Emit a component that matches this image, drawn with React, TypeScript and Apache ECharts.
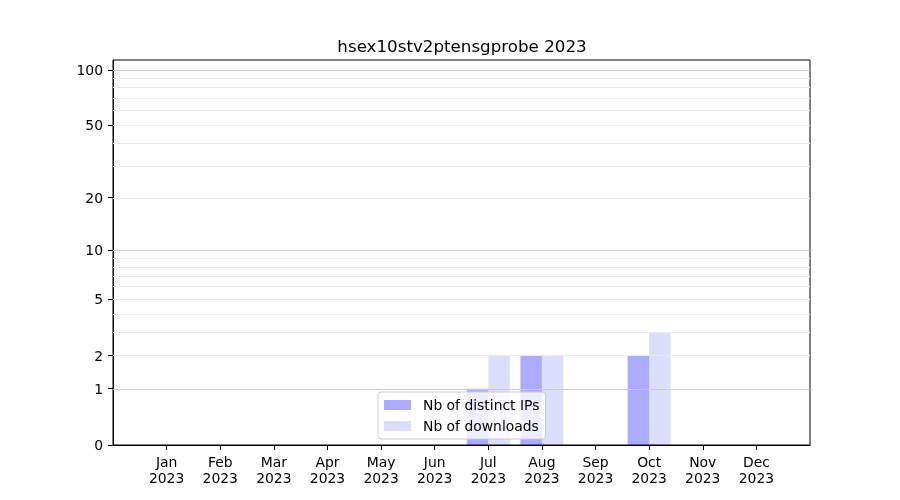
import React, { useEffect, useRef } from "react";
import * as echarts from "echarts";

const months = ["Jan", "Feb", "Mar", "Apr", "May", "Jun", "Jul", "Aug", "Sep", "Oct", "Nov", "Dec"];
const year = "2023";
const ips = [0, 0, 0, 0, 0, 0, 1, 2, 0, 2, 0, 0];
const downloads = [0, 0, 0, 0, 0, 0, 2, 2, 0, 3, 0, 0];
const yTicks = [0, 1, 2, 5, 10, 20, 50, 100];
const majorGrid = [1, 10, 100];
const minorGrid = [2, 3, 4, 5, 6, 7, 8, 9, 20, 30, 40, 50, 60, 70, 80, 90];
const yMaxValue = 113;
const title = "hsex10stv2ptensgprobe 2023";

const tf = (v: number) => Math.log10(1 + v);

export default function App() {
  const ref = useRef<HTMLDivElement>(null);
  useEffect(() => {
    if (!ref.current) return;
    const chart = echarts.init(ref.current, undefined, { renderer: "svg" });
    const cats = ["", ...months.map((m) => `${m}\n${year}`), ""];
    const pad = (arr: number[]) => [null, ...arr.map((v) => tf(v)), null];
    const font = "DejaVu Sans";
    const tickVals = yTicks.map(tf);
    const labelOf = (v: number) => {
      let best = yTicks[0];
      let d = Infinity;
      yTicks.forEach((t) => {
        const dd = Math.abs(tf(t) - v);
        if (dd < d) {
          d = dd;
          best = t;
        }
      });
      return String(best);
    };
    const gridLines = [
      ...minorGrid.map((v) => ({ yAxis: tf(v), lineStyle: { color: "#ebebeb", width: 1, type: "solid" } })),
      ...majorGrid.map((v) => ({ yAxis: tf(v), lineStyle: { color: "#cccccc", width: 1, type: "solid" } })),
    ];
    chart.setOption({
      animation: false,
      textStyle: { fontFamily: font },
      title: {
        text: title,
        left: 457,
        top: 32,
        textAlign: "center",
        textStyle: { fontFamily: font, fontSize: 16.7, fontWeight: "normal", color: "#000" },
      },
      grid: {
        left: 113,
        top: 60,
        width: 697,
        height: 385,
        show: true,
        borderColor: "#000",
        borderWidth: 1,
        containLabel: false,
      },
      legend: {
        data: ["Nb of distinct IPs", "Nb of downloads"],
        orient: "vertical",
        left: 378,
        top: 392,
        itemWidth: 27,
        itemHeight: 10,
        itemGap: 5,
        padding: [5, 6, 5, 6],
        backgroundColor: "rgba(255,255,255,0.8)",
        borderColor: "#cccccc",
        borderWidth: 1,
        borderRadius: 3,
        textStyle: { fontFamily: font, fontSize: 13.9, color: "#000", lineHeight: 16, padding: [0, 0, 0, 7] },
        icon: "rect",
        selectedMode: false,
      },
      xAxis: {
        type: "category",
        data: cats,
        boundaryGap: false,
        axisLine: { lineStyle: { color: "#000", width: 1 } },
        axisTick: {
          length: 5,
          lineStyle: { color: "#000" },
          interval: (_i: number, v: string) => v !== "",
        },
        axisLabel: {
          interval: 0,
          color: "#000",
          fontFamily: font,
          fontSize: 13.9,
          lineHeight: 16,
          margin: 9,
        },
        splitLine: { show: false },
      },
      yAxis: {
        type: "value",
        min: 0,
        max: tf(yMaxValue),
        axisLine: { show: true, lineStyle: { color: "#000", width: 1 } },
        axisTick: { show: true, length: 5, lineStyle: { color: "#000" }, customValues: tickVals },
        axisLabel: {
          customValues: tickVals,
          formatter: (v: number) => labelOf(v),
          color: "#000",
          fontFamily: font,
          fontSize: 13.9,
          margin: 10,
        },
        splitLine: { show: false },
      },
      series: [
        {
          name: "grid",
          type: "line",
          data: [],
          z: 1,
          silent: true,
          markLine: {
            silent: true,
            symbol: "none",
            label: { show: false },
            animation: false,
            data: gridLines,
          },
        },
        {
          name: "Nb of distinct IPs",
          type: "bar",
          data: pad(ips),
          barWidth: 21.5,
          barGap: "0%",
          z: 2,
          itemStyle: { color: "rgba(0,0,255,0.33)" },
        },
        {
          name: "Nb of downloads",
          type: "bar",
          data: pad(downloads),
          barWidth: 21.5,
          barGap: "0%",
          z: 2,
          itemStyle: { color: "rgba(0,0,255,0.133)" },
        },
      ],
    });
    return () => chart.dispose();
  }, []);
  return <div ref={ref} style={{ position: "fixed", left: 0, top: 0, width: 900, height: 500 }} />;
}
